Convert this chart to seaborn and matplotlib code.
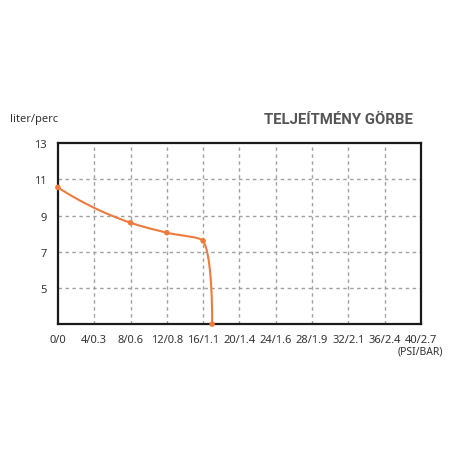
import numpy as np
import matplotlib
matplotlib.use("Agg")
import matplotlib.pyplot as plt
import seaborn as sns

# performance curve data
pressure = [0, 8, 12, 16, 17.0]
flow = [10.55, 8.6, 8.05, 7.6, 3.0]
x_ticks = [0, 4, 8, 12, 16, 20, 24, 28, 32, 36, 40]
x_labels = ["0/0", "4/0.3", "8/0.6", "12/0.8", "16/1.1", "20/1.4",
            "24/1.6", "28/1.9", "32/2.1", "36/2.4", "40/2.7"]
y_ticks = [5, 7, 9, 11, 13]

sns.set_style("white")
plt.rcParams['font.family'] = ['Noto Sans', 'DejaVu Sans']

fig = plt.figure(figsize=(4.56, 4.56), dpi=100)
ax = fig.add_axes([0.127, 0.287, 0.796, 0.397])

xmin, xmax, ymin, ymax = 0, 40, 3, 13


def pchip_slopes(t, v):
    h = np.diff(t)
    d = np.diff(v) / h
    m = np.zeros_like(v)
    for k in range(1, len(v) - 1):
        if d[k - 1] * d[k] > 0:
            w1 = 2 * h[k] + h[k - 1]
            w2 = h[k] + 2 * h[k - 1]
            m[k] = (w1 + w2) / (w1 / d[k - 1] + w2 / d[k])
    for i, (a, b, ha, hb) in enumerate([(d[0], d[1], h[0], h[1]), (d[-1], d[-2], h[-1], h[-2])]):
        e = ((2 * ha + hb) * a - ha * b) / (ha + hb)
        if np.sign(e) != np.sign(a):
            e = 0
        elif np.sign(a) != np.sign(b) and abs(e) > 3 * abs(a):
            e = 3 * a
        m[0 if i == 0 else -1] = e
    return m


def smooth(xs, ys, n=50):
    # monotone cubic through the points, drawn in screen-like space (line style only)
    px = (np.array(xs, float) - xmin) / (xmax - xmin) * 363
    py = (np.array(ys, float) - ymin) / (ymax - ymin) * 181
    t = np.concatenate([[0], np.cumsum(np.hypot(np.diff(px), np.diff(py)))])
    mx, my = pchip_slopes(t, px), pchip_slopes(t, py)
    ox, oy = [], []
    for k in range(len(t) - 1):
        h = t[k + 1] - t[k]
        s = np.linspace(0, 1, n)
        h00 = 2 * s**3 - 3 * s**2 + 1
        h10 = s**3 - 2 * s**2 + s
        h01 = -2 * s**3 + 3 * s**2
        h11 = s**3 - s**2
        ox.append(h00 * px[k] + h10 * h * mx[k] + h01 * px[k + 1] + h11 * h * mx[k + 1])
        oy.append(h00 * py[k] + h10 * h * my[k] + h01 * py[k + 1] + h11 * h * my[k + 1])
    ox, oy = np.concatenate(ox), np.concatenate(oy)
    return ox / 363 * (xmax - xmin) + xmin, oy / 181 * (ymax - ymin) + ymin


orange = "#EE7A3C"
sx, sy = smooth(pressure, flow)
ax.plot(sx, sy, color=orange, lw=1.5, clip_on=False, zorder=3)
sns.scatterplot(x=pressure, y=flow, ax=ax, color=orange, s=16, edgecolor="none",
                zorder=4, clip_on=False)

ax.set_xlim(xmin, xmax)
ax.set_ylim(ymin, ymax)
ax.set_xticks(x_ticks)
ax.set_xticklabels(x_labels)
ax.set_yticks(y_ticks)
ax.tick_params(axis="both", length=0, labelsize=8, labelcolor="#333333")
ax.tick_params(axis="x", pad=7)
ax.tick_params(axis="y", pad=8)

for v in x_ticks[1:-1]:
    ax.axvline(v, color="#a0a0a0", lw=1, ls=(0, (2.5, 2.5)), zorder=1)
for v in y_ticks[:-1]:
    ax.axhline(v, color="#a0a0a0", lw=1, ls=(0, (2.5, 2.5)), zorder=1)

for s in ax.spines.values():
    s.set_color("#1a1a1a")
    s.set_linewidth(1.6)

fig.text(0.022, 0.737, "liter/perc", fontsize=8, color="#333333", va="center")
fig.text(0.906, 0.737, "TELJEÍTMÉNY GÖRBE", fontsize=10.7, fontweight="bold",
         family=["Roboto", "DejaVu Sans"], color="#555555", ha="right", va="center")
fig.text(0.922, 0.228, "(PSI/BAR)", fontsize=7.5, color="#333333", ha="center", va="center")

fig.savefig("out.png", dpi=100)
